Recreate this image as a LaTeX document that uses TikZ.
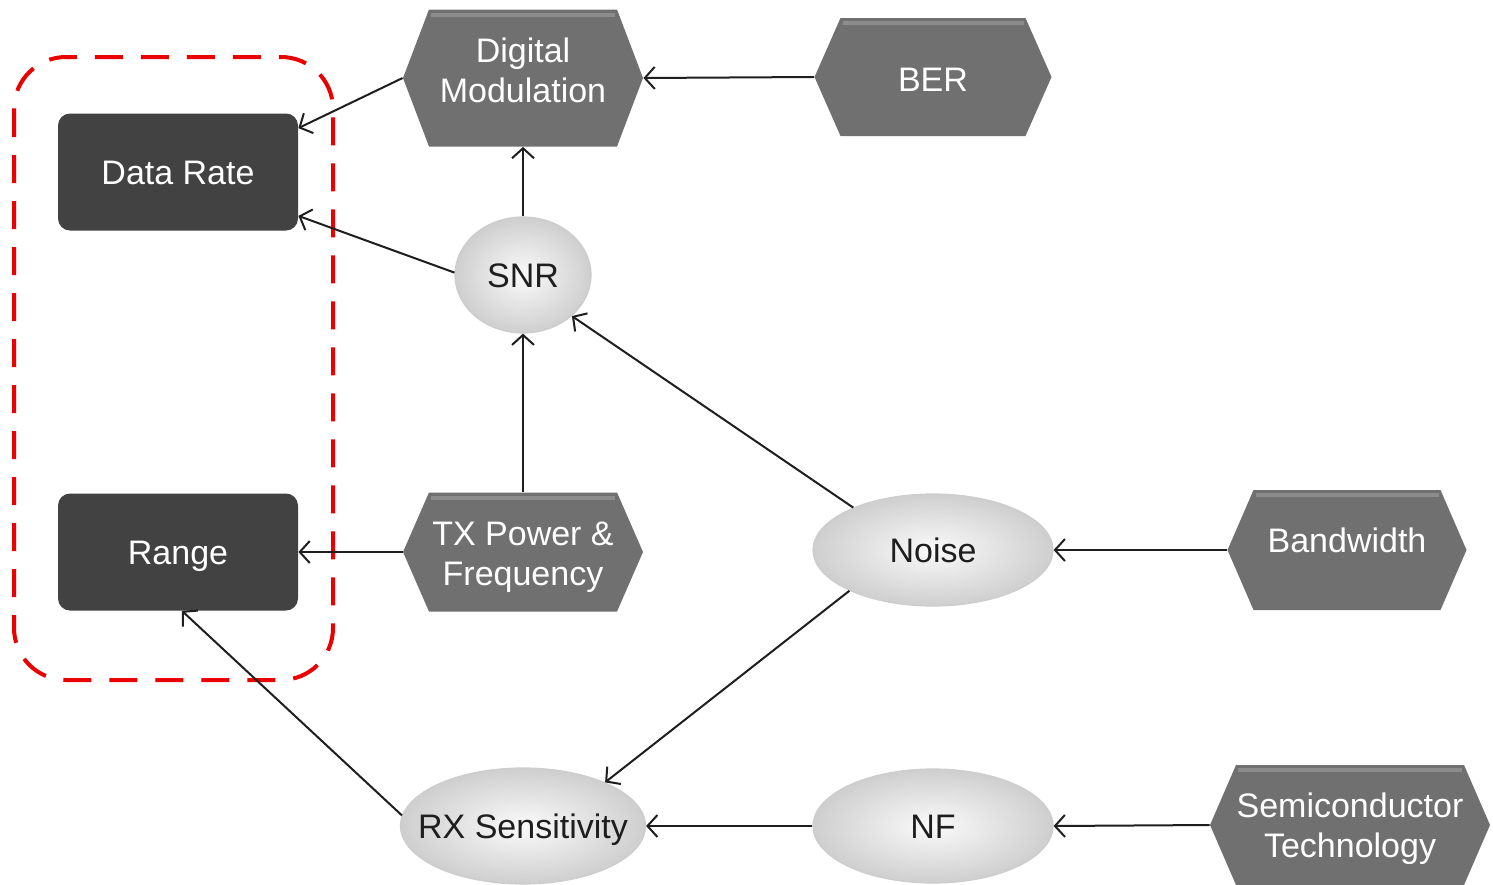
\documentclass[tikz,border=0pt]{standalone}
\usepackage{fontspec}
\setmainfont{Liberation Sans}
\usetikzlibrary{arrows.meta,shapes.geometric}
\definecolor{darkfill}{RGB}{66,66,66}
\definecolor{hexfill}{RGB}{112,112,112}
\definecolor{hexlight}{RGB}{140,140,140}
\definecolor{ellline}{RGB}{205,205,205}
\definecolor{redline}{RGB}{235,0,0}
\definecolor{ink}{RGB}{30,30,30}
\tikzset{
  lbl/.style={font=\fontsize{17}{20}\selectfont, align=center, text height=12pt, text depth=0pt},
  darkbox/.style={lbl, rectangle, rounded corners=6pt, fill=darkfill, text=white,
    minimum width=120pt, minimum height=58.5pt, inner sep=0pt},
  hexbox/.style={lbl, rectangle, inner sep=0pt, text=white,
    path picture={
      \fill[hexfill] (path picture bounding box.west)
        -- ([xshift=13pt]path picture bounding box.north west)
        -- ([xshift=-13pt]path picture bounding box.north east)
        -- (path picture bounding box.east)
        -- ([xshift=-13pt]path picture bounding box.south east)
        -- ([xshift=13pt]path picture bounding box.south west) -- cycle;
      \draw[hexlight, line width=2pt]
        ([xshift=14pt,yshift=-2.5pt]path picture bounding box.north west)
        -- ([xshift=-14pt,yshift=-2.5pt]path picture bounding box.north east);
    }},
  ellbox/.style={lbl, ellipse, inner sep=0pt, text=ink, draw=ellline, line width=0.6pt,
    inner color=white!96!gray, outer color=gray!38},
  conn/.style={line width=1pt, draw=ink, -{Straight Barb[length=5pt,width=11pt]}},
  region/.style={draw=redline, line width=2pt, dash pattern=on 14pt off 9pt, rounded corners=26pt}
}
\begin{document}
\begin{tikzpicture}[x=0.5pt,y=-0.5pt]
\useasboundingbox (0,0) rectangle (1493,884);
\fill[white] (0,0) rectangle (1493,884);

\node[darkbox] (dr) at (178,172) {Data Rate};
\node[darkbox] (range) at (178,552) {Range};

\node[hexbox, minimum width=120pt, minimum height=68.5pt, text height=24pt] (dm) at (523,78) {Digital\\Modulation};
\node[hexbox, minimum width=118.5pt, minimum height=59pt, text height=14pt] (ber) at (933,77) {BER};
\node[hexbox, minimum width=120pt, minimum height=59.5pt, text height=33pt] (tx) at (523,552) {TX Power \&\\Frequency};
\node[hexbox, minimum width=119.5pt, minimum height=60pt, text height=2pt] (bw) at (1347,550) {Bandwidth};
\node[hexbox, minimum width=140pt, minimum height=60pt, text height=32pt] (semi) at (1350,825) {Semiconductor\\Technology};

\node[ellbox, minimum width=68pt, minimum height=58pt] (snr) at (523,275) {\makebox[0pt]{SNR}};
\node[ellbox, minimum width=120pt, minimum height=56pt] (noise) at (933,550) {\makebox[0pt]{Noise}};
\node[ellbox, minimum width=122.5pt, minimum height=58pt] (rx) at (523,826) {\makebox[0pt]{RX Sensitivity}};
\node[ellbox, minimum width=120pt, minimum height=57pt] (nf) at (933,826) {\makebox[0pt]{NF}};

\draw[region] (14,57) rectangle (333,680);

\draw[conn] (dm.west) -- ([yshift=-7.5pt]dr.north east);
\draw[conn] (snr.178) -- ([yshift=7.5pt]dr.south east);
\draw[conn] (snr.north) -- (dm.south);
\draw[conn] (ber.west) -- (dm.east);
\draw[conn] (tx.north) -- (snr.south);
\draw[conn] (tx.west) -- (range.east);
\draw[conn] (noise.152) -- (snr.-40);
\draw[conn] (bw.west) -- (noise.east);
\draw[conn] (noise.206) -- (rx.28);
\draw[conn] (rx.175) -- ([xshift=2pt]range.south);
\draw[conn] (nf.west) -- (rx.east);
\draw[conn] (semi.west) -- (nf.east);
\end{tikzpicture}
\end{document}
